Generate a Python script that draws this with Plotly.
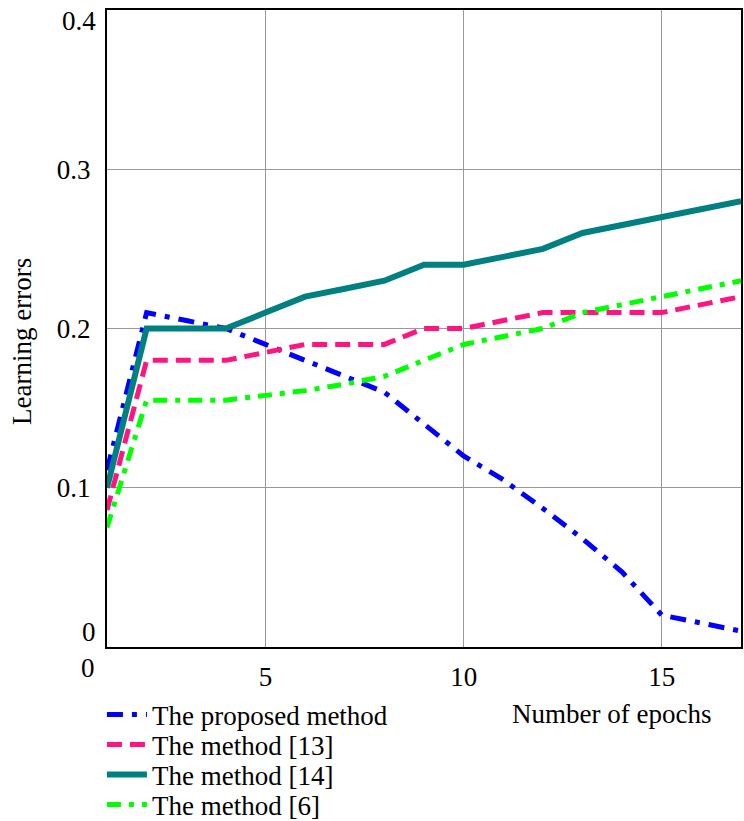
import plotly.graph_objects as go

epochs = list(range(1, 18))
proposed = [0.111, 0.21, 0.205, 0.2, 0.19, 0.18, 0.17, 0.16, 0.14, 0.12, 0.105, 0.087, 0.068, 0.047, 0.02, 0.015, 0.01]
method13 = [0.086, 0.18, 0.18, 0.18, 0.185, 0.19, 0.19, 0.19, 0.2, 0.2, 0.205, 0.21, 0.21, 0.21, 0.21, 0.215, 0.22]
method14 = [0.1, 0.2, 0.2, 0.2, 0.21, 0.22, 0.225, 0.23, 0.24, 0.24, 0.245, 0.25, 0.26, 0.265, 0.27, 0.275, 0.28]
method6 = [0.075, 0.155, 0.155, 0.155, 0.158, 0.161, 0.165, 0.17, 0.18, 0.19, 0.195, 0.2, 0.21, 0.215, 0.22, 0.225, 0.23]

names = ["The proposed method", "The method [13]", "The method [14]", "The method [6]"]
x_ticks = [5, 10, 15]
y_ticks = [0.1, 0.2, 0.3]
y_tick_text = ["0.1", "0.2", "0.3"]

FONT = "Liberation Serif"

styles = [
    dict(color="#0000FF", width=5, dash="16px,9px,5px,9px"),
    dict(color="#FF1480", width=5, dash="15px,8px"),
    dict(color="#008080", width=6),
    dict(color="#00FF00", width=5, dash="14px,8px,5px,8px"),
]
series = [proposed, method13, method14, method6]
legend_ids = ["legend", "legend2", "legend3", "legend4"]
# legend rows, as fractions of the whole figure height (container)
legend_y = [0.1291, 0.0926, 0.0560, 0.0195]

fig = go.Figure()
for name, ys, st, lid in zip(names, series, styles, legend_ids):
    fig.add_trace(go.Scatter(x=epochs, y=ys, mode="lines", name=name, line=st, legend=lid))

legend_common = dict(x=-0.008, xanchor="left", yanchor="middle", yref="container",
                     bgcolor="rgba(0,0,0,0)", borderwidth=0,
                     font=dict(family=FONT, size=27), itemwidth=40)

fig.update_layout(
    width=744, height=821,
    margin=dict(l=107, r=3, t=10, b=174),
    paper_bgcolor="white", plot_bgcolor="white",
    font=dict(family=FONT, size=27, color="black"),
    showlegend=True,
    legend=dict(y=legend_y[0], **legend_common),
    legend2=dict(y=legend_y[1], **legend_common),
    legend3=dict(y=legend_y[2], **legend_common),
    legend4=dict(y=legend_y[3], **legend_common),
    xaxis=dict(range=[1, 17], tickvals=x_ticks, showgrid=True, gridcolor="#999999", gridwidth=1,
               showline=True, linecolor="black", linewidth=2, mirror=True, zeroline=False,
               ticks="", ticklabelstandoff=5, automargin=False,
               tickfont=dict(family=FONT, size=27)),
    yaxis=dict(range=[0, 0.4], tickvals=y_ticks, ticktext=y_tick_text, showgrid=True,
               gridcolor="#999999", gridwidth=1, showline=True, linecolor="black", linewidth=2,
               mirror=True, zeroline=False, ticks="", ticklabelstandoff=9, automargin=False,
               tickfont=dict(family=FONT, size=27)),
    annotations=[
        dict(text="0.4", xref="paper", yref="y", x=0, y=0.4, xanchor="right", yanchor="middle",
             xshift=-9, yshift=-11, showarrow=False, font=dict(family=FONT, size=27)),
        dict(text="0", xref="paper", yref="y", x=0, y=0, xanchor="right", yanchor="middle",
             xshift=-9, yshift=15, showarrow=False, font=dict(family=FONT, size=27)),
        dict(text="0", xref="paper", yref="paper", x=0, y=0, xanchor="center", yanchor="middle",
             xshift=-19, yshift=-21, showarrow=False, font=dict(family=FONT, size=27)),
        dict(text="Number of epochs", xref="paper", yref="paper", x=0.956, y=0, xanchor="right",
             yanchor="middle", yshift=-67, showarrow=False, font=dict(family=FONT, size=27)),
        dict(text="Learning errors", xref="paper", yref="paper", x=0, y=0.479, xanchor="center",
             yanchor="middle", xshift=-85, textangle=-90, showarrow=False,
             font=dict(family=FONT, size=27)),
    ],
)

fig.write_html("out.html", config={"displayModeBar": False},
               post_script="document.body.style.margin='0px';")
